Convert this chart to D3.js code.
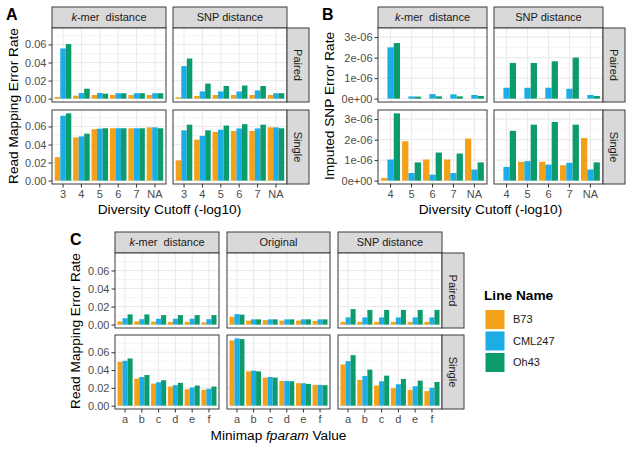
<!DOCTYPE html>
<html><head><meta charset="utf-8">
<script src="https://cdn.jsdelivr.net/npm/d3@7"></script>
<style>body{margin:0;background:#fff}text{font-family:"Liberation Sans",Arial,sans-serif}</style>
</head><body>
<script>
const lineNames = ["B73","CML247","Oh43"];
const lineColors = ["#F4A11A","#1CADE4","#0C9B6C"];
const cutoffsA = ["3","4","5","6","7","NA"];
const cutoffsB = ["4","5","6","7","NA"];
const fparams = ["a","b","c","d","e","f"];
const ticksRate = [0,0.02,0.04,0.06];
const ticksSNP = [0,1e-6,2e-6,3e-6];

// Each array: [B73 values, CML247 values, Oh43 values]
const aKmerPaired = [[0.0018,0.0033,0.004,0.004,0.004,0.004],[0.0556,0.0062,0.0062,0.006,0.006,0.006],[0.0604,0.011,0.0055,0.006,0.006,0.006]];
const aSnpPaired  = [[0.0015,0.003,0.004,0.004,0.004,0.004],[0.036,0.008,0.008,0.008,0.009,0.006],[0.0444,0.0167,0.014,0.0145,0.014,0.006]];
const aKmerSingle = [[0.026,0.0478,0.057,0.058,0.058,0.059],[0.0718,0.049,0.0575,0.058,0.058,0.059],[0.0745,0.052,0.058,0.058,0.058,0.058]];
const aSnpSingle  = [[0.0225,0.0454,0.054,0.055,0.055,0.059],[0.0557,0.0496,0.0564,0.0578,0.0578,0.059],[0.062,0.0557,0.061,0.0625,0.062,0.058]];

const bKmerPaired = [[0,0,0,0,0],[2.5e-6,0.11e-6,0.22e-6,0.21e-6,0.18e-6],[2.71e-6,0.1e-6,0.11e-6,0.11e-6,0.13e-6]];
const bSnpPaired  = [[0,0,0.03e-6,0,0],[0.53e-6,0.53e-6,0.53e-6,0.48e-6,0.18e-6],[1.74e-6,1.74e-6,1.82e-6,2.0e-6,0.13e-6]];
const bKmerSingle = [[0.13e-6,1.92e-6,1.03e-6,1.03e-6,2.05e-6],[1.03e-6,0.37e-6,0.29e-6,0.37e-6,0.54e-6],[3.28e-6,0.89e-6,1.37e-6,1.32e-6,0.89e-6]];
const bSnpSingle  = [[0,0.92e-6,0.92e-6,0.75e-6,2.08e-6],[0.67e-6,0.95e-6,0.78e-6,0.87e-6,0.54e-6],[2.43e-6,2.73e-6,2.86e-6,2.73e-6,0.89e-6]];

const cKmerPaired = [[0.0036,0.0036,0.0033,0.003,0.003,0.0025],[0.007,0.006,0.0065,0.0065,0.0065,0.006],[0.0113,0.0113,0.0105,0.0105,0.0105,0.0105]];
const cOrigPaired = [[0.0087,0.0044,0.005,0.0044,0.0044,0.004],[0.0116,0.0058,0.0058,0.0058,0.0058,0.0058],[0.011,0.0058,0.0058,0.0058,0.0058,0.0058]];
const cSnpPaired  = [[0.003,0.003,0.003,0.003,0.003,0.003],[0.008,0.008,0.008,0.008,0.008,0.008],[0.0172,0.0163,0.0163,0.0163,0.0163,0.0163]];
const cKmerSingle = [[0.0493,0.0304,0.0248,0.0215,0.0185,0.0178],[0.0504,0.0322,0.0263,0.023,0.0204,0.0189],[0.053,0.0344,0.0285,0.0256,0.0226,0.0215]];
const cOrigSingle = [[0.0733,0.0385,0.0315,0.0278,0.0252,0.0233],[0.0756,0.0393,0.0322,0.0278,0.0252,0.0233],[0.0748,0.0385,0.0315,0.0274,0.0244,0.023]];
const cSnpSingle  = [[0.0463,0.0289,0.0226,0.0196,0.0178,0.0163],[0.05,0.0333,0.0274,0.024,0.0218,0.02],[0.0567,0.0404,0.0337,0.03,0.0281,0.0266]];

const W = 633, H = 450;
const svg = d3.select("body").append("svg").attr("width", W).attr("height", H);
const BORDER = "#3a3a3a", GRID = "#EBEBEB";

function sci(v){
  if (v === 0) return "0e+00";
  const e = Math.floor(Math.log10(v) + 1e-9);
  const m = Math.round(v / Math.pow(10, e));
  return m + "e" + (e < 0 ? "-" : "+") + String(Math.abs(e)).padStart(2, "0");
}

function stripLabel(sel, label){
  if (label === "kmer") {
    sel.append("tspan").attr("font-style","italic").text("k");
    sel.append("tspan").text("-mer\u00a0\u00a0distance");
  } else sel.text(label);
}

function facet(o){
  const g = svg.append("g");
  const ymax = d3.max(o.cells.flat(3));
  const dom = [-0.05*ymax, 1.05*ymax];
  const step = o.ticks[1] - o.ticks[0];
  const minor = d3.range(o.ticks.length + 1).map(i => o.ticks[0] + step*(i + 0.5)).filter(v => v > dom[0] && v < dom[1]);
  o.cols.forEach((c, ci) => {
    const x = d3.scaleBand().domain(o.cats).range(c).paddingInner(0.1).paddingOuter(0.15);
    const xs = d3.scaleBand().domain(lineNames).range([0, x.bandwidth()]);
    g.append("rect").attr("x", c[0]).attr("y", o.strip[0]).attr("width", c[1]-c[0]).attr("height", o.strip[1]-o.strip[0])
      .attr("fill", "#D9D9D9").attr("stroke", BORDER).attr("stroke-width", 1);
    const st = g.append("text").attr("x", (c[0]+c[1])/2).attr("y", (o.strip[0]+o.strip[1])/2).attr("dy", "0.35em")
      .attr("text-anchor", "middle").attr("font-size", 11).attr("fill", "#1A1A1A");
    stripLabel(st, o.colLabels[ci]);
    o.rows.forEach((r, ri) => {
      const y = d3.scaleLinear().domain(dom).range([r[1], r[0]]);
      const cell = o.cells[ri][ci];
      const p = g.append("g");
      p.append("rect").attr("x", c[0]).attr("y", r[0]).attr("width", c[1]-c[0]).attr("height", r[1]-r[0]).attr("fill", "#fff");
      p.selectAll(".mn").data(minor).join("line").attr("x1", c[0]).attr("x2", c[1]).attr("y1", d => y(d)).attr("y2", d => y(d))
        .attr("stroke", GRID).attr("stroke-width", 0.55);
      p.selectAll(".mj").data(o.ticks).join("line").attr("x1", c[0]).attr("x2", c[1]).attr("y1", d => y(d)).attr("y2", d => y(d))
        .attr("stroke", GRID).attr("stroke-width", 1.1);
      p.selectAll(".vx").data(o.cats).join("line").attr("y1", r[0]).attr("y2", r[1])
        .attr("x1", d => x(d) + x.bandwidth()/2).attr("x2", d => x(d) + x.bandwidth()/2)
        .attr("stroke", GRID).attr("stroke-width", 1.1);
      lineNames.forEach((ln, li) => {
        p.append("g").selectAll("rect").data(cell[li]).join("rect")
          .attr("x", (d, i) => x(o.cats[i]) + xs(ln)).attr("width", xs.bandwidth())
          .attr("y", d => y(Math.max(d, 0))).attr("height", d => Math.abs(y(0) - y(d)))
          .attr("fill", lineColors[li]);
      });
      p.append("rect").attr("x", c[0]).attr("y", r[0]).attr("width", c[1]-c[0]).attr("height", r[1]-r[0])
        .attr("fill", "none").attr("stroke", BORDER).attr("stroke-width", 1);
      if (ci === 0) {
        const ax = g.append("g").attr("transform", `translate(${c[0]},0)`)
          .call(d3.axisLeft(y).tickValues(o.ticks).tickSize(3.5).tickPadding(2).tickFormat(o.fmt));
        styleAxis(ax);
      }
      if (ri === o.rows.length - 1) {
        const ax = g.append("g").attr("transform", `translate(0,${r[1]})`)
          .call(d3.axisBottom(x).tickSize(3.5).tickPadding(3));
        styleAxis(ax);
      }
    });
  });
  o.rows.forEach((r, ri) => {
    g.append("rect").attr("x", o.rstrip[0]).attr("y", r[0]).attr("width", o.rstrip[1]-o.rstrip[0]).attr("height", r[1]-r[0])
      .attr("fill", "#D9D9D9").attr("stroke", BORDER).attr("stroke-width", 1);
    g.append("text").attr("transform", `translate(${(o.rstrip[0]+o.rstrip[1])/2},${(r[0]+r[1])/2}) rotate(90)`)
      .attr("dy", "0.35em").attr("text-anchor", "middle").attr("font-size", 11).attr("fill", "#1A1A1A").text(o.rowLabels[ri]);
  });
  const xt = g.append("text").attr("x", (o.cols[0][0] + o.cols[o.cols.length-1][1])/2).attr("y", o.xTitleY)
    .attr("text-anchor", "middle").attr("font-size", 13.7).attr("fill", "#000");
  o.xTitle(xt);
  g.append("text").attr("transform", `translate(${o.yTitleX},${(o.rows[0][0]+o.rows[o.rows.length-1][1])/2}) rotate(-90)`)
    .attr("text-anchor", "middle").attr("font-size", 13.7).attr("fill", "#000").text(o.yTitle);
  g.append("text").attr("x", o.tag[0]).attr("y", o.tag[1]).attr("font-size", 16).attr("font-weight", "bold").text(o.tagText);
}

function styleAxis(ax){
  ax.select(".domain").remove();
  ax.selectAll(".tick line").attr("stroke", "#333");
  ax.selectAll(".tick text").attr("fill", "#4D4D4D").attr("font-size", 11).attr("font-family", '"Liberation Sans",Arial,sans-serif');
}

const rateFmt = d3.format(".2f");

facet({
  cols: [[52,166],[173,287]], rows: [[28,102],[110,184]], strip: [7,28], rstrip: [287,309],
  cats: cutoffsA, colLabels: ["kmer","SNP distance"], rowLabels: ["Paired","Single"],
  cells: [[aKmerPaired, aSnpPaired],[aKmerSingle, aSnpSingle]], ticks: ticksRate, fmt: rateFmt,
  xTitleY: 214, xTitle: t => t.text("Diversity Cutoff (-log10)"),
  yTitleX: 18, yTitle: "Read Mapping Error Rate", tag: [6, 20], tagText: "A"
});
facet({
  cols: [[378,487],[494,603]], rows: [[28,102],[110,184]], strip: [7,28], rstrip: [603,625],
  cats: cutoffsB, colLabels: ["kmer","SNP distance"], rowLabels: ["Paired","Single"],
  cells: [[bKmerPaired, bSnpPaired],[bKmerSingle, bSnpSingle]], ticks: ticksSNP, fmt: sci,
  xTitleY: 214, xTitle: t => t.text("Diversity Cutoff (-log10)"),
  yTitleX: 334, yTitle: "Imputed SNP Error Rate", tag: [322, 20], tagText: "B"
});
facet({
  cols: [[115,219],[227,330],[338,442]], rows: [[253,328],[335,409]], strip: [232,253], rstrip: [442,464],
  cats: fparams, colLabels: ["kmer","Original","SNP distance"], rowLabels: ["Paired","Single"],
  cells: [[cKmerPaired, cOrigPaired, cSnpPaired],[cKmerSingle, cOrigSingle, cSnpSingle]], ticks: ticksRate, fmt: rateFmt,
  xTitleY: 440, xTitle: t => { t.append("tspan").text("Minimap "); t.append("tspan").attr("font-style","italic").text("fparam"); t.append("tspan").text(" Value"); },
  yTitleX: 80, yTitle: "Read Mapping Error Rate", tag: [70, 245], tagText: "C"
});

const lg = svg.append("g");
lg.append("text").attr("x", 484).attr("y", 300).attr("font-size", 13.7).attr("font-weight", "bold").text("Line Name");
lineNames.forEach((ln, i) => {
  lg.append("rect").attr("x", 485).attr("y", 309.5 + i*21.5).attr("width", 20).attr("height", 20)
    .attr("fill", lineColors[i]).attr("stroke", "#fff").attr("stroke-width", 1);
  lg.append("text").attr("x", 513).attr("y", 319.5 + i*21.5).attr("dy", "0.35em").attr("font-size", 11).attr("fill", "#1A1A1A").text(ln);
});
</script>
</body></html>
